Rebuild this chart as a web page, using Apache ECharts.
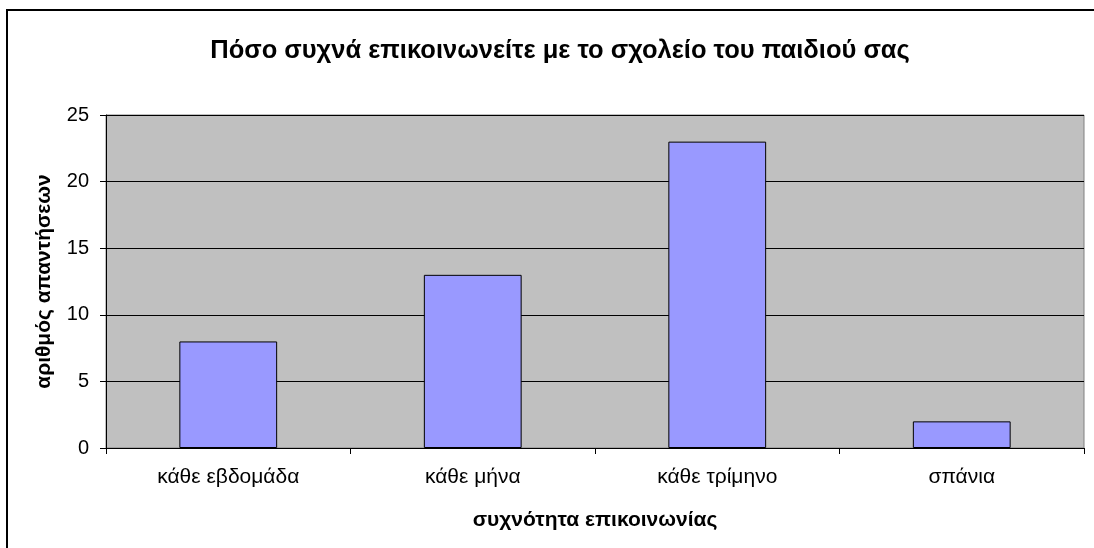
<!DOCTYPE html>
<html>
<head>
<meta charset="utf-8">
<script src="https://cdn.jsdelivr.net/npm/echarts@6/dist/echarts.min.js"></script>
<style>
  html, body { margin: 0; padding: 0; background: #fff; }
  #chart { width: 1094px; height: 548px; }
</style>
</head>
<body>
<div id="chart"></div>
<script>
var categories = ['κάθε εβδομάδα', 'κάθε μήνα', 'κάθε τρίμηνο', 'σπάνια'];
var answers = [8, 13, 23, 2];
var yTicks = [0, 5, 10, 15, 20, 25];

var chart = echarts.init(document.getElementById('chart'));
chart.setOption({
  animation: false,
  textStyle: { fontFamily: 'Liberation Sans, Arial, sans-serif', color: '#000' },
  title: {
    text: 'Πόσο συχνά επικοινωνείτε με το σχολείο του παιδιού σας',
    left: 555,
    textAlign: 'center',
    top: 33,
    textStyle: { fontSize: 25.5, fontWeight: 'bold', color: '#000' }
  },
  graphic: [{
    type: 'rect',
    shape: { x: 7, y: 10, width: 1200, height: 700 },
    style: { fill: 'none', stroke: '#000', lineWidth: 2 },
    silent: true
  }],
  grid: {
    left: 106, right: 10, top: 115, bottom: 100,
    show: true,
    backgroundColor: '#C0C0C0',
    borderColor: '#808080',
    borderWidth: 1
  },
  xAxis: {
    type: 'category',
    data: categories,
    name: 'συχνότητα επικοινωνίας',
    nameLocation: 'middle',
    nameGap: 62,
    nameTextStyle: { fontSize: 21, fontWeight: 'bold', color: '#000' },
    axisLine: { lineStyle: { color: '#000', width: 1 } },
    axisTick: { show: true, inside: false, length: 6, lineStyle: { color: '#000' } },
    axisLabel: { fontSize: 21, color: '#000', margin: 19 },
    splitLine: { show: false }
  },
  yAxis: {
    type: 'value',
    min: yTicks[0],
    max: yTicks[yTicks.length - 1],
    interval: 5,
    name: 'αριθμός απαντήσεων',
    nameLocation: 'middle',
    nameGap: 51,
    nameRotate: 90,
    nameTextStyle: { fontSize: 21, fontWeight: 'bold', color: '#000' },
    axisLine: { show: true, lineStyle: { color: '#000', width: 1 } },
    axisTick: { show: true, inside: false, length: 6, lineStyle: { color: '#000' } },
    axisLabel: { fontSize: 20, color: '#000', margin: 17 },
    splitLine: { show: true, lineStyle: { color: '#000', width: 1 } }
  },
  series: [{
    type: 'bar',
    data: answers,
    barWidth: '40%',
    itemStyle: { color: '#9999FF', borderColor: '#000', borderWidth: 1 }
  }]
});
</script>
</body>
</html>
